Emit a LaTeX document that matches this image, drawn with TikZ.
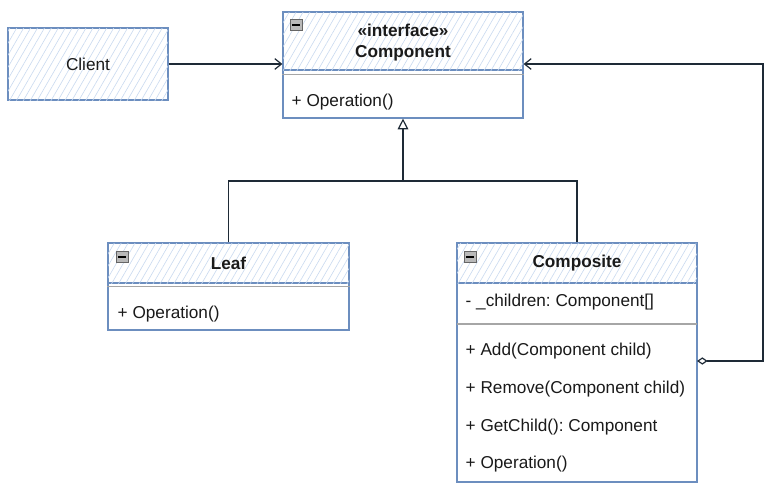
\documentclass[tikz,border=0pt]{standalone}
\usepackage{fontspec}
\setmainfont{Liberation Sans}
\usetikzlibrary{arrows.meta,patterns.meta}

\definecolor{boxblue}{HTML}{6C8EBF}
\definecolor{hatchblue}{HTML}{C9DAF0}
\definecolor{wire}{HTML}{1E2A36}
\definecolor{divgray}{HTML}{A6A6A6}
\definecolor{ink}{HTML}{1A1A1A}
\def\px{0.75pt}
\frenchspacing

\begin{document}
\begin{tikzpicture}[x=0.75pt,y=-0.75pt,>=latex,
        font=\fontsize{12.9}{15.8}\selectfont,text=ink,
        classhead/.style={draw=boxblue,line width=0.9pt,fill=white,
            postaction={pattern={Lines[angle=60,distance=4.5pt,line width=0.45pt]},
                pattern color=hatchblue},
            inner sep=0pt,align=center},
        classbody/.style={draw=boxblue,line width=0.9pt,fill=white,inner sep=0pt},
        member/.style={anchor=west},
        minusbox/.style={draw=gray!80!black,fill=gray!55,line width=0.5pt,
            minimum width=12*\px,minimum height=11*\px,inner sep=0pt,
            path picture={\draw[black,line width=1.2pt]
                ([xshift=1.8pt]path picture bounding box.west) --
                ([xshift=-1.8pt]path picture bounding box.east);}},
        divider/.style={divgray,line width=1.1pt},
        wireline/.style={wire,line width=0.9pt}]
    \useasboundingbox (0,0) rectangle (769,489);

    % Client.
    \node[classhead,minimum width=160*\px,minimum height=72*\px]
        (client) at (88,64) {Client};

    % Interface Component.
    \node[classbody,minimum width=240*\px,minimum height=48*\px]
        (compbody) at (403,94) {};
    \node[classhead,font=\fontsize{12.9}{15.8}\selectfont\bfseries,
        minimum width=240*\px,minimum height=58*\px]
        (comphead) at (403,41) {};
    \node[font=\fontsize{12.9}{15.8}\selectfont\bfseries,align=center]
        (comptitle) at (403,42.5) {«interface»\\Component};
    \node[minusbox] (compminus) at (296,25) {};
    \draw[divider] ([yshift=-5*\px]compbody.north west) --
        ([yshift=-5*\px]compbody.north east);
    \node[member] (compop) at (287,102) {+ Operation()};

    % Leaf.
    \node[classbody,minimum width=241*\px,minimum height=47*\px]
        (leafbody) at (228.5,306.5) {};
    \node[classhead,font=\fontsize{12.9}{15.8}\selectfont\bfseries,
        minimum width=241*\px,minimum height=40*\px]
        (leafhead) at (228.5,263) {Leaf};
    \node[minusbox] (leafminus) at (122,257) {};
    \draw[divider] ([yshift=-4*\px]leafbody.north west) --
        ([yshift=-4*\px]leafbody.north east);
    \node[member] (leafop) at (113,314) {+ Operation()};

    % Composite.
    \node[classbody,minimum width=240*\px,minimum height=200*\px]
        (cpsbody) at (577,382) {};
    \node[classhead,font=\fontsize{12.9}{15.8}\selectfont\bfseries,
        minimum width=240*\px,minimum height=40*\px]
        (cpshead) at (577,263) {Composite};
    \node[minusbox] (cpsminus) at (470,257) {};
    \node[member] (cpschildren) at (461,302) {- \_children: Component[]};
    \draw[divider] (457,324) -- (697,324);
    \node[member] (cpsadd) at (461,351) {+ Add(Component child)};
    \node[member] (cpsremove) at (461,389) {+ Remove(Component child)};
    \node[member] (cpsget) at (461,427) {+ GetChild(): Component};
    \node[member] (cpsop) at (461,464) {+ Operation()};

    % Association, generalisation and aggregation.
    \draw[wireline,-{Straight Barb[length=5pt,width=8pt]}]
        (client.east) -- (client.east -| comphead.west);
    \coordinate (join) at (403,181);
    \draw[wireline] (leafhead.north) |- (join) -| (cpshead.north);
    \draw[wireline,-{Triangle[open,length=8pt,width=8pt]}]
        (join) -- (compbody.south);
    \coordinate (aggr) at (697,361);
    \draw[wireline,{Diamond[open,length=8pt,width=5.5pt]}-{Straight Barb[length=5pt,width=8pt]}]
        (aggr) -- (763,361) |- (client.east -| comphead.east);
\end{tikzpicture}
\end{document}
